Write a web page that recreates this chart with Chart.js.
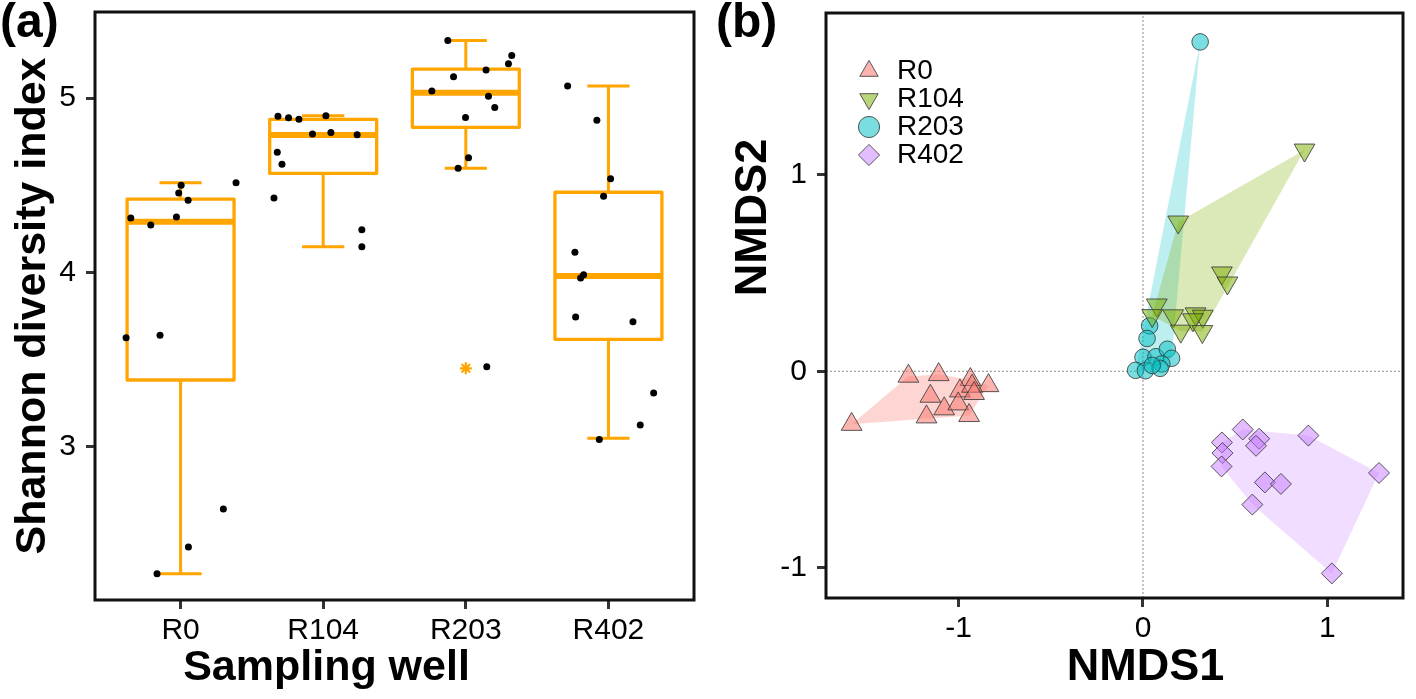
<!DOCTYPE html>
<html><head><meta charset="utf-8">
<script src="https://cdn.jsdelivr.net/npm/chart.js@4.4.1/dist/chart.umd.min.js"></script>
<style>
html,body{margin:0;padding:0;background:#fff;}
#wrap{position:relative;width:1416px;height:699px;overflow:hidden;background:#fff;}
.cv{position:absolute;top:0;width:708px;height:699px;}
.lab{position:absolute;top:-8px;font-family:"Liberation Sans",Arial,sans-serif;font-weight:bold;font-size:48px;color:#000;line-height:1.2;}
</style></head><body>
<div id="wrap">
<div class="cv" style="left:0"><canvas id="ca" width="708" height="699"></canvas></div>
<div class="cv" style="left:708px"><canvas id="cb" width="708" height="699"></canvas></div>
<div class="lab" style="left:0">(a)</div>
<div class="lab" style="left:716px">(b)</div>
</div>
<script>
// ---------- Panel (a): Shannon diversity ----------
const wells = ['R0','R104','R203','R402'];
const shannonTicks = [3,4,5];
const shannonR0   = [4.312,4.272,4.318,4.500,4.456,4.414,4.515,3.626,3.640,2.645,2.427,2.274];
const jitterR0    = [-0.349,-0.209,-0.029,0.004,-0.013,0.053,0.389,-0.382,-0.144,0.300,0.055,-0.165];
const shannonR104 = [4.895,4.887,4.878,4.899,4.794,4.803,4.790,4.689,4.620,4.427,4.245,4.148];
const jitterR104  = [-0.317,-0.243,-0.170,0.019,-0.075,0.054,0.238,-0.322,-0.289,-0.345,0.271,0.271];
const shannonR203 = [5.329,5.243,5.197,5.160,5.122,5.040,5.010,4.945,4.889,4.658,4.597,3.460];
const jitterR203  = [-0.126,0.322,0.299,0.142,-0.086,-0.238,0.159,0.203,-0.002,0.019,-0.054,0.147];
const shannonR402 = [5.069,4.872,4.538,4.437,4.116,3.987,3.968,3.745,3.718,3.310,3.126,3.043];
const jitterR402  = [-0.286,-0.081,0.015,-0.034,-0.235,-0.174,-0.195,-0.230,0.172,0.317,0.223,-0.064];
const boxQ1       = [3.384,4.568,4.832,3.617];
const boxMedian   = [4.291,4.788,5.030,3.980];
const boxQ3       = [4.421,4.878,5.166,4.460];
const whiskerLow  = [2.274,4.148,4.597,3.050];
const whiskerHigh = [4.515,4.899,5.329,5.069];
const outlierWell  = ['R203'];
const outlierValue = [3.451];

// ---------- Panel (b): NMDS ----------
const nmdsTicks = [-1,0,1];
const r0X   = [-1.580,-1.272,-1.108,-0.936,-0.838,-1.153,-0.993,-0.927,-0.916,-1.078,-1.002,-1.174,-0.943];
const r0Y   = [-0.270,-0.025,-0.017,-0.042,-0.073,-0.127,-0.100,-0.076,-0.113,-0.191,-0.166,-0.232,-0.225];
const r104X = [0.876,0.191,0.428,0.458,0.075,0.050,0.164,0.205,0.285,0.324,0.271,0.322];
const r104Y = [1.125,0.759,0.500,0.449,0.337,0.283,0.282,0.204,0.292,0.280,0.262,0.202];
const r203X = [0.310,0.036,0.022,0.000,-0.040,0.013,0.070,0.132,0.155,0.102,0.093,0.050];
const r203Y = [1.675,0.231,0.167,0.071,0.005,0.003,0.074,0.112,0.066,0.037,0.015,0.030];
const r402X = [0.541,0.428,0.630,0.613,0.431,0.426,0.897,1.280,0.661,0.748,0.593,1.024];
const r402Y = [-0.296,-0.362,-0.343,-0.379,-0.416,-0.484,-0.327,-0.517,-0.565,-0.573,-0.678,-1.028];

const FONT = '"Liberation Sans", Arial, Helvetica, sans-serif';
const ORANGE = '#FFA500';
const boxHalf = 0.375, capHalf = 0.148;

function segData(list){
  const out = [];
  list.forEach(s => { s.forEach(p => out.push({x:p[0], y:p[1]})); out.push({x:s[0][0], y:null}); });
  return out;
}
const framePlugin = {
  id:'frame',
  afterDraw(chart){
    const {ctx, chartArea:a} = chart;
    ctx.save(); ctx.strokeStyle = '#111'; ctx.lineWidth = 3;
    ctx.strokeRect(a.left, a.top, a.right - a.left, a.bottom - a.top);
    ctx.restore();
  }
};
// shifts an axis title along its axis (titles in the reference are not centred)
const titleShift = {
  id:'titleShift',
  afterLayout(chart, args, opts){
    const shifts = (opts && opts.shifts) || {};
    Object.keys(shifts).forEach(id => {
      const s = chart.scales[id];
      if (s && !s._shiftPatched){
        const d = shifts[id], orig = s.drawTitle.bind(s);
        s.drawTitle = function(){ const c = this.ctx; c.save(); c.translate(d[0], d[1]); orig(); c.restore(); };
        s._shiftPatched = true;
      }
    });
  }
};
function tickAxis(extra, size, isY){
  return Object.assign({
    type:'linear',
    grid:{display:true, drawOnChartArea:false, drawTicks:true, tickLength:9, tickWidth:3, tickColor:'#333', color:'#333'},
    border:{display:false},
  }, extra, {
    afterFit:s => {
      if (isY) s.width = size; else s.height = size;
      s.paddingTop = 0; s.paddingBottom = 0; s.paddingLeft = 0; s.paddingRight = 0;
    }
  });
}

// ---- build panel (a) ----
const groupsA = [[shannonR0,jitterR0],[shannonR104,jitterR104],[shannonR203,jitterR203],[shannonR402,jitterR402]];
const jitterPts = [];
groupsA.forEach((g,i) => g[0].forEach((v,j) => jitterPts.push({x:i + 1 + g[1][j], y:v})));
const boxSegs = [], medSegs = [], whiskSegs = [];
wells.forEach((w,i) => {
  const c = i + 1;
  boxSegs.push([[c-boxHalf,boxQ1[i]],[c+boxHalf,boxQ1[i]],[c+boxHalf,boxQ3[i]],[c-boxHalf,boxQ3[i]],[c-boxHalf,boxQ1[i]]]);
  medSegs.push([[c-boxHalf,boxMedian[i]],[c+boxHalf,boxMedian[i]]]);
  whiskSegs.push([[c,boxQ3[i]],[c,whiskerHigh[i]]]);
  whiskSegs.push([[c,boxQ1[i]],[c,whiskerLow[i]]]);
  whiskSegs.push([[c-capHalf,whiskerHigh[i]],[c+capHalf,whiskerHigh[i]]]);
  whiskSegs.push([[c-capHalf,whiskerLow[i]],[c+capHalf,whiskerLow[i]]]);
});
const outlierPts = outlierWell.map((w,k) => ({x: wells.indexOf(w) + 1, y: outlierValue[k]}));
const lineDs = (data, width, extra) => Object.assign({type:'line', data, borderColor:ORANGE, borderWidth:width, pointRadius:0, fill:false, tension:0, spanGaps:false, borderJoinStyle:'round', borderCapStyle:'butt'}, extra||{});

new Chart(document.getElementById('ca'), {
  type:'scatter',
  data:{datasets:[
    {data:jitterPts, pointRadius:3.5, backgroundColor:'#000', borderWidth:0},
    {data:outlierPts, pointStyle:'star', pointRadius:6, borderColor:ORANGE, borderWidth:2.2, backgroundColor:ORANGE},
    lineDs(segData(medSegs), 6),
    lineDs(segData(boxSegs), 3.3),
    lineDs(segData(whiskSegs), 3),
  ]},
  options:{
    responsive:false, animation:false, devicePixelRatio:1,
    layout:{padding:{left:0, top:12, right:14, bottom:0}},
    plugins:{legend:{display:false}, tooltip:{enabled:false}, titleShift:{shifts:{x:[-68,0]}}},
    scales:{
      x: tickAxis({min:0.4, max:4.6,
        afterBuildTicks:s => { s.ticks = wells.map((w,i) => ({value:i+1})); },
        ticks:{callback:v => wells[v-1], font:{family:FONT, size:30}, color:'#000', padding:4, maxRotation:0, autoSkip:false},
        title:{display:true, text:'Sampling well', font:{family:FONT, size:43, weight:'bold'}, color:'#000', padding:{top:0, bottom:5}}
      }, 99, false),
      y: tickAxis({min:2.123, max:5.493,
        afterBuildTicks:s => { s.ticks = shannonTicks.map(v => ({value:v})); },
        ticks:{font:{family:FONT, size:30}, color:'#000', padding:10},
        title:{display:true, text:'Shannon diversity index', font:{family:FONT, size:43, weight:'bold'}, color:'#000', padding:{top:7, bottom:0}}
      }, 95, true)
    }
  },
  plugins:[framePlugin, titleShift]
});

// ---- build panel (b) ----
function convexHull(pts){
  const p = pts.slice().sort((a,b) => a.x - b.x || a.y - b.y);
  const cross = (o,a,b) => (a.x-o.x)*(b.y-o.y) - (a.y-o.y)*(b.x-o.x);
  const lower = [], upper = [];
  for (const q of p){ while (lower.length >= 2 && cross(lower[lower.length-2], lower[lower.length-1], q) <= 0) lower.pop(); lower.push(q); }
  for (let i = p.length-1; i >= 0; i--){ const q = p[i]; while (upper.length >= 2 && cross(upper[upper.length-2], upper[upper.length-1], q) <= 0) upper.pop(); upper.push(q); }
  const h = lower.slice(0,-1).concat(upper.slice(0,-1));
  h.push(h[0]);
  return h;
}
const toPts = (xs, ys) => xs.map((x,i) => ({x, y:ys[i]}));
const groupsB = [
  {label:'R0',   pts:toPts(r0X,r0Y),     style:'triangle', rot:0,   r:12,  fill:'rgba(248,118,109,0.55)', hull:'rgba(248,118,109,0.30)'},
  {label:'R104', pts:toPts(r104X,r104Y), style:'triangle', rot:180, r:12,  fill:'rgba(124,174,0,0.52)',   hull:'rgba(124,174,0,0.28)'},
  {label:'R203', pts:toPts(r203X,r203Y), style:'circle',   rot:0,   r:8.3, fill:'rgba(0,191,196,0.52)',   hull:'rgba(0,191,196,0.26)'},
  {label:'R402', pts:toPts(r402X,r402Y), style:'rectRot',  rot:0,   r:10.5,fill:'rgba(199,124,255,0.5)',  hull:'rgba(199,124,255,0.26)'},
];
const xMinB = -1.719, xMaxB = 1.410, yMinB = -1.153, yMaxB = 1.822;
const dsB = [];
groupsB.forEach(g => dsB.push({label:g.label, data:g.pts, pointStyle:g.style, pointRotation:g.rot, pointRadius:g.r,
  backgroundColor:g.fill, borderColor:'rgba(60,60,60,0.85)', borderWidth:1}));
groupsB.forEach(g => dsB.push({type:'line', label:'hull-'+g.label, data:convexHull(g.pts), borderWidth:0, borderColor:'rgba(0,0,0,0)',
  backgroundColor:g.hull, pointRadius:0, fill:'shape', tension:0}));
dsB.push({type:'line', label:'zero-x', data:[{x:xMinB,y:0},{x:xMaxB,y:0}], borderColor:'#8a8a8a', borderWidth:1, borderDash:[2,2], pointRadius:0, fill:false});
dsB.push({type:'line', label:'zero-y', data:[{x:0,y:yMinB},{x:0,y:yMaxB}], borderColor:'#8a8a8a', borderWidth:1, borderDash:[2,2], pointRadius:0, fill:false});

const legendMove = {
  id:'legendMove',
  afterLayout(chart){
    const lg = chart.legend, a = chart.chartArea;
    if (lg){ lg.left = a.left + 29; lg.top = a.top + 44; }
  }
};

new Chart(document.getElementById('cb'), {
  type:'scatter',
  data:{datasets:dsB},
  options:{
    responsive:false, animation:false, devicePixelRatio:1,
    layout:{padding:{left:0, top:12, right:4, bottom:0}},
    plugins:{
      tooltip:{enabled:false},
      titleShift:{shifts:{x:[31,0], y:[0,-88]}},
      legend:{position:'chartArea', align:'start',
        labels:{usePointStyle:true, boxHeight:15, padding:0, color:'#000', font:{family:FONT, size:28},
          filter:item => groupsB.some(g => g.label === item.text)}}
    },
    scales:{
      x: tickAxis({min:xMinB, max:xMaxB,
        afterBuildTicks:s => { s.ticks = nmdsTicks.map(v => ({value:v})); },
        ticks:{font:{family:FONT, size:30}, color:'#000', padding:4, maxRotation:0},
        title:{display:true, text:'NMDS1', font:{family:FONT, size:45, weight:'bold'}, color:'#000', padding:{top:0, bottom:4}}
      }, 101, false),
      y: tickAxis({min:yMinB, max:yMaxB,
        afterBuildTicks:s => { s.ticks = nmdsTicks.map(v => ({value:v})); },
        ticks:{font:{family:FONT, size:30}, color:'#000', padding:10},
        title:{display:true, text:'NMDS2', font:{family:FONT, size:45, weight:'bold'}, color:'#000', padding:{top:19, bottom:0}}
      }, 118, true)
    }
  },
  plugins:[framePlugin, legendMove, titleShift]
});
</script>
</body></html>
